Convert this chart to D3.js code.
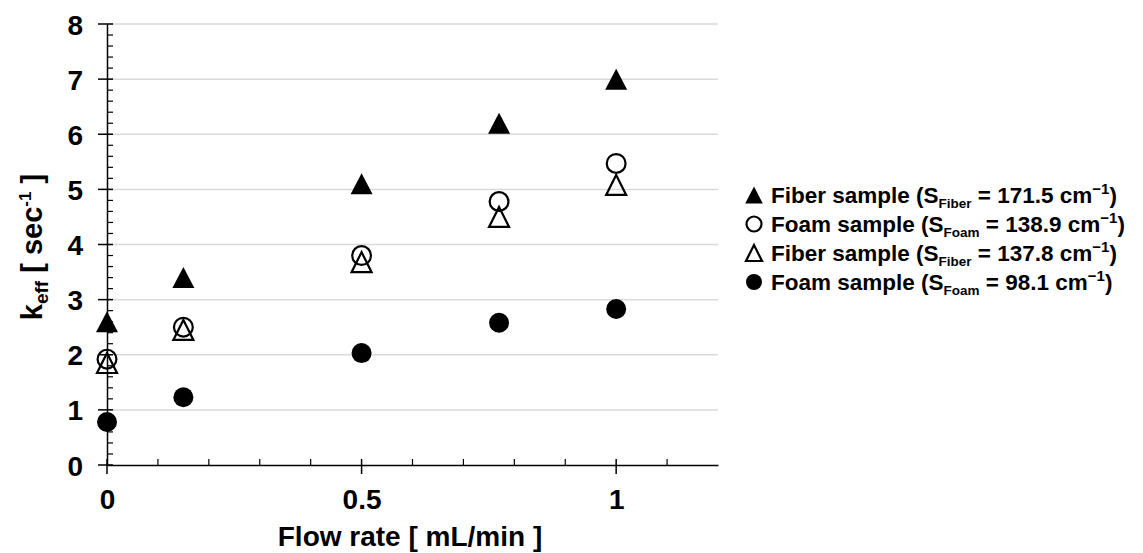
<!DOCTYPE html>
<html><head><meta charset="utf-8">
<script src="https://cdn.jsdelivr.net/npm/d3@7"></script>
<style>body{margin:0;background:#fff}svg{display:block}text{font-family:"Liberation Sans",Arial,sans-serif;font-weight:bold;fill:#000}</style>
</head><body><svg id="c" width="1143" height="553"></svg>
<script>
const flowRates = [0, 0.15, 0.5, 0.77, 1.0];
const fiber171 = [2.6, 3.4, 5.1, 6.2, 7.0];
const foam139 = [1.92, 2.5, 3.8, 4.78, 5.47];
const fiber138 = [1.85, 2.45, 3.68, 4.5, 5.08];
const foam98 = [0.78, 1.23, 2.03, 2.58, 2.83];
const xTicks = [0, 0.5, 1];
const yTicks = [0,1,2,3,4,5,6,7,8];
const seriesInfo = [
  {name:"Fiber sample (S", sub:"Fiber", rest:" = 171.5 cm", values:fiber171, shape:"triangle", fill:true},
  {name:"Foam sample (S", sub:"Foam", rest:" = 138.9 cm", values:foam139, shape:"circle", fill:false},
  {name:"Fiber sample (S", sub:"Fiber", rest:" = 137.8 cm", values:fiber138, shape:"triangle", fill:false},
  {name:"Foam sample (S", sub:"Foam", rest:" = 98.1 cm", values:foam98, shape:"circle", fill:true}
];
const svg = d3.select("#c");
const x = d3.scaleLinear().domain([0,1.2]).range([107,718]);
const y = d3.scaleLinear().domain([0,8]).range([465,24]);

// grid
svg.append("g").selectAll("line").data(yTicks.filter(d=>d>0)).join("line")
  .attr("x1",x(0)).attr("x2",x(1.2)).attr("y1",d=>y(d)).attr("y2",d=>y(d))
  .attr("stroke","#d9d9d9").attr("stroke-width",1.5);

// axes
const yAxis = d3.axisLeft(y).tickValues(yTicks).tickSize(0).tickPadding(24).tickFormat(d3.format("d"));
const gy = svg.append("g").attr("transform",`translate(${x(0)},0)`).call(yAxis);
gy.select(".domain").attr("stroke","#000").attr("stroke-width",1.5);
gy.selectAll("text").attr("font-size",28).attr("dy","0.36em");
gy.selectAll(".maj").data(yTicks).join("line").attr("class","maj")
  .attr("x1",-9).attr("x2",6).attr("y1",d=>y(d)).attr("y2",d=>y(d)).attr("stroke","#000").attr("stroke-width",1.5);
const yMinor = d3.range(0,8.001,0.2).filter(v=>Math.abs(v-Math.round(v))>0.01);
gy.selectAll(".min").data(yMinor).join("line").attr("class","min")
  .attr("x1",0).attr("x2",6).attr("y1",d=>y(d)).attr("y2",d=>y(d)).attr("stroke","#000").attr("stroke-width",1.2);

const xAxis = d3.axisBottom(x).tickValues(xTicks).tickSize(0).tickPadding(24).tickFormat(d=>d===0?"0":(d===1?"1":d));
const gx = svg.append("g").attr("transform",`translate(0,${y(0)})`).call(xAxis);
gx.select(".domain").attr("stroke","#000").attr("stroke-width",1.5);
gx.selectAll("text").attr("font-size",28).attr("dy","0.71em");
gx.selectAll(".maj").data(xTicks).join("line").attr("class","maj")
  .attr("y1",-6).attr("y2",9).attr("x1",d=>x(d)).attr("x2",d=>x(d)).attr("stroke","#000").attr("stroke-width",1.5);
const xMinor = d3.range(0.1,1.2,0.1).filter(v=>Math.abs(v-0.5)>0.01 && Math.abs(v-1)>0.01);
gx.selectAll(".min").data(xMinor).join("line").attr("class","min")
  .attr("y1",-6).attr("y2",0).attr("x1",d=>x(d)).attr("x2",d=>x(d)).attr("stroke","#000").attr("stroke-width",1.2);

// axis titles
svg.append("text").attr("x",410).attr("y",546).attr("text-anchor","middle").attr("font-size",28).text("Flow rate [ mL/min ]");
const yt = svg.append("text").attr("transform","translate(42,247) rotate(-90)").attr("text-anchor","middle").attr("font-size",29);
yt.append("tspan").text("k");
yt.append("tspan").attr("font-size",19).attr("dy",6).text("eff");
yt.append("tspan").attr("dy",-6).text(" [ sec");
yt.append("tspan").attr("font-size",17).attr("dy",-11).text("-1");
yt.append("tspan").attr("dy",11).text(" ]");

// markers
function triPath(w,h){ return `M0,${-h/2}L${w/2},${h/2}L${-w/2},${h/2}Z`; }
function cirPath(r){ return d3.symbol().type(d3.symbolCircle).size(Math.PI*r*r)(); }
function drawMarker(g, s, cx, cy, k){
  let d;
  if(s.shape==="triangle") d = s.fill ? triPath(22*k,21*k) : triPath(20*k,20*k);
  else d = s.fill ? cirPath(10*k) : cirPath(9.4*k);
  const p = g.append("path").attr("transform",`translate(${cx},${cy})`).attr("d", d);
  if(s.fill) p.attr("fill","#000").attr("stroke","none");
  else p.attr("fill","none").attr("stroke","#000").attr("stroke-width",2.2).attr("stroke-linejoin","miter");
}
[3,1,2,0].forEach(i=>{
  const s = seriesInfo[i];
  const g = svg.append("g");
  s.values.forEach((v,j)=>drawMarker(g,s,x(flowRates[j]),y(v),1));
});

// legend
const lg = svg.append("g");
seriesInfo.forEach((s,i)=>{
  const ly = 195 + i*29;
  drawMarker(lg, s, 754, ly, 0.8);
  const t = lg.append("text").attr("x",771).attr("y",ly).attr("dy","0.36em").attr("font-size",22.5);
  t.append("tspan").text(s.name);
  t.append("tspan").attr("font-size",13.5).attr("dy",5).text(s.sub);
  t.append("tspan").attr("dy",-5).text(s.rest);
  t.append("tspan").attr("font-size",15).attr("dy",-9).text("\u22121");
  t.append("tspan").attr("dy",9).text(")");
});
</script></body></html>
